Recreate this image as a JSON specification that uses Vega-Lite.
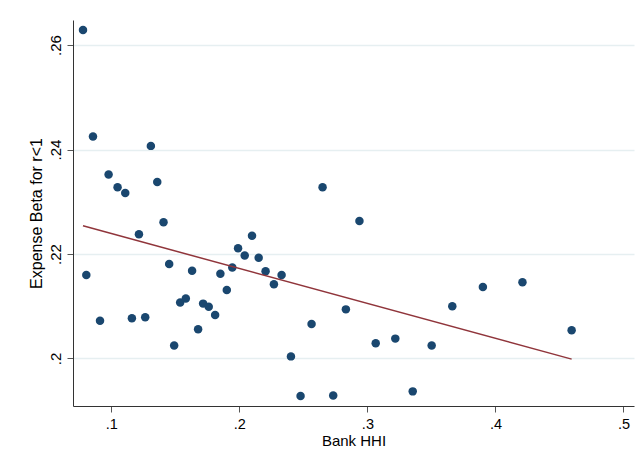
{
  "$schema": "https://vega.github.io/schema/vega-lite/v6.json",
  "width": 561,
  "height": 386,
  "autosize": {"type": "none"},
  "padding": {"left": 73, "top": 20, "right": 6, "bottom": 62},
  "background": "white",
  "config": {
    "view": {"stroke": null},
    "font": "Liberation Sans",
    "axis": {"labelFont": "Liberation Sans", "titleFont": "Liberation Sans", "labelColor": "#000000", "titleColor": "#000000", "titleFontWeight": "normal", "domainColor": "#333333", "tickColor": "#555555", "domainWidth": 1, "tickWidth": 1}
  },
  "datasets": {
    "pts": [
      {"hhi": 0.0779, "beta": 0.2629},
      {"hhi": 0.0805, "beta": 0.2160},
      {"hhi": 0.0857, "beta": 0.2425},
      {"hhi": 0.0912, "beta": 0.2072},
      {"hhi": 0.0979, "beta": 0.2352},
      {"hhi": 0.1049, "beta": 0.2328},
      {"hhi": 0.1109, "beta": 0.2317},
      {"hhi": 0.1161, "beta": 0.2077},
      {"hhi": 0.1216, "beta": 0.2238},
      {"hhi": 0.1265, "beta": 0.2079},
      {"hhi": 0.1309, "beta": 0.2407},
      {"hhi": 0.1359, "beta": 0.2338},
      {"hhi": 0.1408, "beta": 0.2261},
      {"hhi": 0.1452, "beta": 0.2181},
      {"hhi": 0.1491, "beta": 0.2025},
      {"hhi": 0.1538, "beta": 0.2107},
      {"hhi": 0.1582, "beta": 0.2115},
      {"hhi": 0.1631, "beta": 0.2168},
      {"hhi": 0.1678, "beta": 0.2056},
      {"hhi": 0.1717, "beta": 0.2105},
      {"hhi": 0.1761, "beta": 0.2099},
      {"hhi": 0.1811, "beta": 0.2083},
      {"hhi": 0.1852, "beta": 0.2162},
      {"hhi": 0.1902, "beta": 0.2131},
      {"hhi": 0.1945, "beta": 0.2174},
      {"hhi": 0.1990, "beta": 0.2211},
      {"hhi": 0.2042, "beta": 0.2197},
      {"hhi": 0.2099, "beta": 0.2235},
      {"hhi": 0.2151, "beta": 0.2193},
      {"hhi": 0.2205, "beta": 0.2167},
      {"hhi": 0.2270, "beta": 0.2142},
      {"hhi": 0.2330, "beta": 0.2160},
      {"hhi": 0.2403, "beta": 0.2004},
      {"hhi": 0.2478, "beta": 0.1928},
      {"hhi": 0.2564, "beta": 0.2066},
      {"hhi": 0.2650, "beta": 0.2328},
      {"hhi": 0.2733, "beta": 0.1929},
      {"hhi": 0.2832, "beta": 0.2094},
      {"hhi": 0.2938, "beta": 0.2263},
      {"hhi": 0.3065, "beta": 0.2029},
      {"hhi": 0.3218, "beta": 0.2038},
      {"hhi": 0.3354, "beta": 0.1937},
      {"hhi": 0.3502, "beta": 0.2025},
      {"hhi": 0.3663, "beta": 0.2100},
      {"hhi": 0.3902, "beta": 0.2137},
      {"hhi": 0.4211, "beta": 0.2146},
      {"hhi": 0.4595, "beta": 0.2054}
    ],
    "fit": [
      {"hhi": 0.0779, "beta": 0.2254},
      {"hhi": 0.4595, "beta": 0.19987}
    ]
  },
  "layer": [
    {
      "data": {"name": "pts"},
      "mark": {"type": "point", "shape": "circle", "filled": true, "size": 72, "color": "#1a476f", "opacity": 1, "strokeWidth": 0},
      "encoding": {
        "x": {
          "field": "hhi", "type": "quantitative",
          "scale": {"domain": [0.0701, 0.5082], "nice": false, "zero": false},
          "axis": {"title": "Bank HHI", "titleFontSize": 15, "titlePadding": 3, "values": [0.1, 0.2, 0.3, 0.4, 0.5], "labelExpr": "replace(format(datum.value, '.1~f'), '0.', '.')", "labelFontSize": 14.5, "tickSize": 6, "labelPadding": 5, "grid": false}
        },
        "y": {
          "field": "beta", "type": "quantitative",
          "scale": {"domain": [0.1909, 0.2648], "nice": false, "zero": false},
          "axis": {"title": "Expense Beta for r<1", "titleFontSize": 16, "titlePadding": 4, "values": [0.2, 0.22, 0.24, 0.26], "labelExpr": "replace(format(datum.value, '.2~f'), '0.', '.')", "labelFontSize": 15, "labelAngle": -90, "labelAlign": "center", "labelBaseline": "bottom", "tickSize": 6, "labelPadding": 4, "grid": true, "gridColor": "#e6eff1", "gridWidth": 1.3}
        }
      }
    },
    {
      "data": {"name": "fit"},
      "mark": {"type": "line", "color": "#90353b", "strokeWidth": 1.5},
      "encoding": {
        "x": {"field": "hhi", "type": "quantitative"},
        "y": {"field": "beta", "type": "quantitative"}
      }
    }
  ]
}
